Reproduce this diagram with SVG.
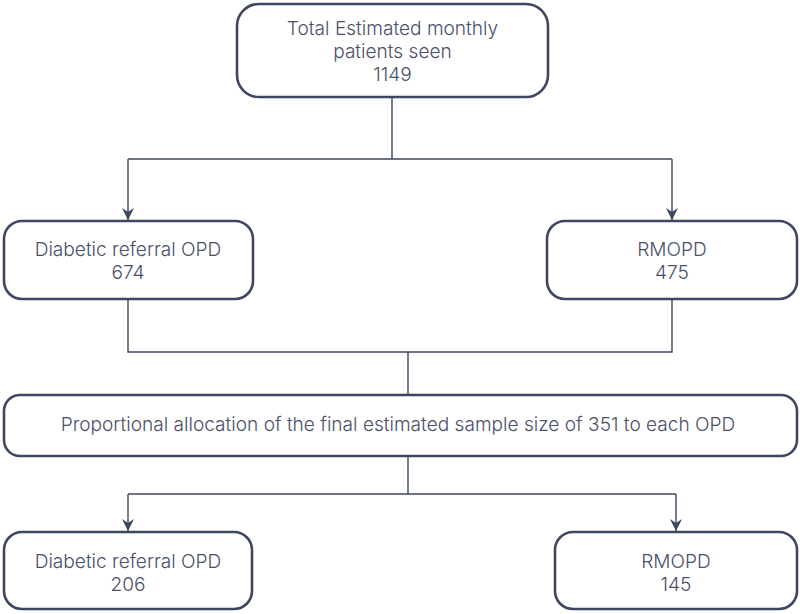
<svg xmlns="http://www.w3.org/2000/svg" width="800" height="614" viewBox="0 0 800 614">
<defs>
<style>
.box{fill:#ffffff;stroke:#3f4660;stroke-width:2.6}
.t{font-family:Inter,"Liberation Sans",sans-serif;font-size:19.1px;font-weight:300;fill:#4a5069;text-anchor:middle}
.c{fill:none;stroke:#3f4660;stroke-width:1.4}
</style>
<marker id="ah" viewBox="0 0 12 12" refX="12" refY="6" markerWidth="12" markerHeight="12" markerUnits="userSpaceOnUse" orient="auto">
<path d="M0,0 L12,6 L0,12 L4,6 Z" fill="#3f4660"/>
</marker>
</defs>
<rect width="800" height="614" fill="#ffffff"/>
<g id="connectors">
<path class="c" d="M392,97 V159 M128,159 H672"/>
<path class="c" d="M128,159 V220" marker-end="url(#ah)"/>
<path class="c" d="M672,159 V220" marker-end="url(#ah)"/>
<path class="c" d="M128,299 V352 H672 V299 M408,352 V395"/>
<path class="c" d="M408,456 V494 M128,494 H676"/>
<path class="c" d="M128,494 V531" marker-end="url(#ah)"/>
<path class="c" d="M676,494 V531" marker-end="url(#ah)"/>
</g>
<g id="n-total">
<rect class="box" x="237" y="4" width="311" height="93" rx="22"/>
<text class="t" x="392.5" y="34.5">Total Estimated monthly</text>
<text class="t" x="392.5" y="57.5">patients seen</text>
<text class="t" x="392.5" y="80.5">1149</text>
</g>
<g id="n-diab1">
<rect class="box" x="4" y="221" width="249" height="78" rx="18"/>
<text class="t" x="128" y="255.5">Diabetic referral OPD</text>
<text class="t" x="128" y="278.5">674</text>
</g>
<g id="n-rmopd1">
<rect class="box" x="547" y="221" width="250" height="78" rx="18"/>
<text class="t" x="672" y="255.5">RMOPD</text>
<text class="t" x="672" y="278.5">475</text>
</g>
<g id="n-alloc">
<rect class="box" x="4" y="395" width="793" height="61" rx="16"/>
<text class="t" x="398" y="431">Proportional allocation of the final estimated sample size of 351 to each OPD</text>
</g>
<g id="n-diab2">
<rect class="box" x="4" y="532" width="248" height="77" rx="18"/>
<text class="t" x="128" y="567.5">Diabetic referral OPD</text>
<text class="t" x="128" y="590.5">206</text>
</g>
<g id="n-rmopd2">
<rect class="box" x="555" y="532" width="242" height="77" rx="18"/>
<text class="t" x="676" y="567.5">RMOPD</text>
<text class="t" x="676" y="590.5">145</text>
</g>
</svg>
